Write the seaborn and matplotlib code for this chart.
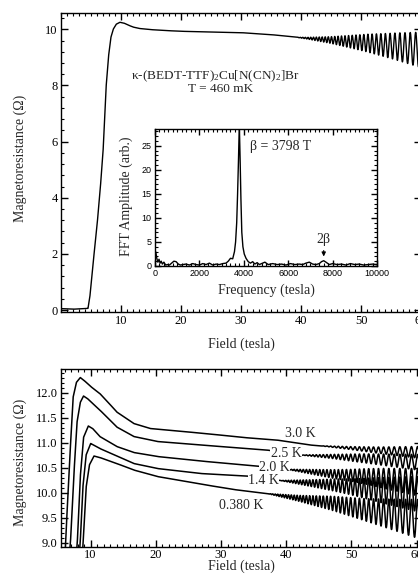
import numpy as np
import pandas as pd
import matplotlib
matplotlib.use('Agg')
import matplotlib.pyplot as plt
import seaborn as sns
from matplotlib.ticker import MultipleLocator, FormatStrFormatter

# ---- values ----
beta_freq = 3798  # T, quoted beta frequency

# top panel (T = 460 mK): background trace and oscillation envelope
top_field = [0, 2, 4, 4.5, 4.8, 5.2, 5.6, 6.0, 6.5, 7.0, 7.5, 7.9, 8.3, 8.7, 9.2, 9.8,
             10.5, 11.2, 12, 13, 14.8, 17, 19.8, 25, 30, 35, 40, 45.4, 51, 56.5, 60.5]
top_res = [0.05, 0.03, 0.05, 0.06, 0.45, 1.3, 2.2, 3.0, 4.2, 5.6, 7.9, 9.0, 9.7, 10.0, 10.18, 10.25,
           10.22, 10.15, 10.08, 10.03, 9.99, 9.96, 9.93, 9.90, 9.88, 9.81, 9.70, 9.61, 9.51, 9.37, 9.25]
top_amp_field = [0, 39, 41, 45, 50, 55, 60.5]
top_amp = [0, 0, 0.03, 0.12, 0.28, 0.45, 0.65]

# inset FFT spectrum
fft_freq = [0, 40, 80, 130, 180, 230, 280, 330, 400, 480, 560, 650, 750, 850, 950, 1050,
            1150, 1250, 1400, 1550, 1700, 1850, 2000, 2150, 2300, 2450, 2600, 2750, 2900,
            3050, 3200, 3300, 3400, 3500, 3580, 3630, 3680, 3720, 3760, 3798, 3835, 3870,
            3910, 3960, 4020, 4100, 4200, 4300, 4400, 4500, 4600, 4700,
            4800, 4950, 5100, 5300, 5500, 5700, 5900, 6100, 6300, 6500, 6650, 6800, 6950,
            7100, 7250, 7400, 7500, 7600, 7700, 7850, 8000, 8200, 8400, 8600, 8800, 9000,
            9200, 9400, 9600, 9800, 10000]
fft_amp = [3.3, 2.8, 1.6, 0.8, 1.4, 0.6, 1.0, 0.4, 0.8, 0.2, 0.3, 0.2, 0.6, 1.0, 0.9, 0.4,
           0.2, 0.3, 0.4, 0.2, 0.5, 0.3, 0.2, 0.5, 0.3, 0.6, 0.2, 0.4, 0.3,
           0.5, 0.6, 1.0, 1.6, 1.5, 3.0, 5.0, 9.0, 15.0, 22.0, 29.5, 22.0, 14.0,
           7.0, 4.0, 2.5, 1.6, 0.9, 0.6, 0.9, 0.4, 0.7, 0.3,
           0.5, 0.8, 0.3, 0.5, 0.3, 0.4, 0.2, 0.5, 0.3, 0.4, 0.3, 0.6, 0.8,
           0.4, 0.3, 0.5, 0.9, 1.1, 0.8, 0.3, 0.5, 0.3, 0.4, 0.2, 0.5, 0.3,
           0.4, 0.2, 0.3, 0.4, 0.3]

# bottom panel: five temperatures
temps = ['3.0 K', '2.5 K', '2.0 K', '1.4 K', '0.380 K']
bg_field = {
    '3.0 K': [5.4, 5.8, 6.15, 6.7, 7.3, 7.8, 8.4, 9.0, 10.0, 11.4, 12.7, 14.0, 16.6, 19.1,
              21.7, 28.3, 33.4, 38.5, 43.6, 48.7, 53.8, 60.7],
    '2.5 K': [5.4, 6.3, 6.9, 7.4, 7.9, 8.4, 8.9, 9.5, 10.3, 11.4, 14.0, 16.6, 20.2, 26.8,
              31.9, 37.0, 42.1, 47.2, 52.3, 60.7],
    '2.0 K': [5.4, 7.4, 7.95, 8.4, 8.9, 9.64, 10.3, 11.4, 14.0, 16.6, 20.2, 26.8, 35.5,
              41.1, 47.2, 52.3, 60.7],
    '1.4 K': [5.4, 7.9, 8.4, 8.8, 9.3, 10.0, 11.4, 14.0, 16.6, 20.2, 26.8, 34.0, 39.0,
              47.2, 52.3, 60.7],
    '0.380 K': [5.4, 8.4, 8.85, 9.3, 9.8, 10.5, 11.4, 14.0, 16.6, 20.2, 26.8, 31.9, 37.0,
                42.1, 47.2, 52.3, 60.7],
}
bg_res = {
    '3.0 K': [6.5, 8.0, 9.0, 10.45, 11.9, 12.2, 12.30, 12.24, 12.12, 11.98, 11.8, 11.61,
              11.38, 11.28, 11.25, 11.17, 11.10, 11.05, 10.95, 10.90, 10.85, 10.80],
    '2.5 K': [6.0, 8.0, 9.0, 10.3, 11.4, 11.8, 11.93, 11.88, 11.78, 11.65, 11.31, 11.12,
              11.02, 10.95, 10.90, 10.85, 10.75, 10.72, 10.68, 10.60],
    '2.0 K': [6.0, 8.0, 9.0, 10.3, 11.1, 11.33, 11.28, 11.12, 10.92, 10.80, 10.72, 10.63,
              10.53, 10.45, 10.37, 10.32, 10.20],
    '1.4 K': [6.0, 8.0, 9.0, 10.1, 10.75, 10.98, 10.88, 10.73, 10.58, 10.48, 10.38, 10.33,
              10.24, 10.15, 10.08, 9.96],
    '0.380 K': [6.0, 8.0, 9.0, 10.1, 10.55, 10.73, 10.70, 10.58, 10.45, 10.32, 10.17, 10.06,
                9.98, 9.88, 9.78, 9.65, 9.46],
}
amp_field = {
    '3.0 K': [0, 45, 50, 55, 60.7],
    '2.5 K': [0, 42, 47, 52, 60.7],
    '2.0 K': [0, 40, 45, 50, 55, 60.7],
    '1.4 K': [0, 39, 44, 50, 55, 60.7],
    '0.380 K': [0, 37, 42, 47, 52, 56, 60.7],
}
amp_val = {
    '3.0 K': [0, 0, 0.03, 0.07, 0.12],
    '2.5 K': [0, 0, 0.04, 0.09, 0.16],
    '2.0 K': [0, 0, 0.06, 0.12, 0.2, 0.28],
    '1.4 K': [0, 0, 0.07, 0.16, 0.26, 0.36],
    '0.380 K': [0, 0, 0.06, 0.14, 0.22, 0.3, 0.4],
}
label_pos = {'3.0 K': (42.2, 11.19), '2.5 K': (40.0, 10.79), '2.0 K': (38.2, 10.50),
             '1.4 K': (36.5, 10.24), '0.380 K': (33.1, 9.74)}

# ---- build traces ----
B = np.linspace(0.05, 60.7, 8000)
top = pd.DataFrame({'field': B})
top['R'] = np.interp(B, top_field, top_res) + \
    np.interp(B, top_amp_field, top_amp) * np.sin(2 * np.pi * beta_freq / B)

frames = []
for t in temps:
    r = np.interp(B, bg_field[t], bg_res[t]) + \
        np.interp(B, amp_field[t], amp_val[t]) * np.sin(2 * np.pi * beta_freq / B + 0.6)
    frames.append(pd.DataFrame({'field': B, 'R': r, 'T': t}))
bottom = pd.concat(frames)
bottom = bottom[bottom['field'] > 5.3]

fft = pd.DataFrame({'freq': fft_freq, 'amp': fft_amp})

# ---- style ----
sns.set_style('ticks')
plt.rcParams['font.family'] = ['Liberation Serif', 'DejaVu Serif']
plt.rcParams['mathtext.fontset'] = 'custom'
plt.rcParams['mathtext.rm'] = 'Liberation Serif'
plt.rcParams['mathtext.it'] = 'Liberation Serif:italic'
plt.rcParams['axes.linewidth'] = 1.0
plt.rcParams['axes.edgecolor'] = 'black'
for a in ('xtick', 'ytick'):
    plt.rcParams[a + '.direction'] = 'in'
    plt.rcParams[a + '.color'] = 'black'
    plt.rcParams[a + '.major.size'] = 5
    plt.rcParams[a + '.minor.size'] = 2.5
    plt.rcParams[a + '.major.width'] = 1.0
    plt.rcParams[a + '.minor.width'] = 0.8
    plt.rcParams[a + '.minor.visible'] = True
plt.rcParams['xtick.top'] = True
plt.rcParams['ytick.right'] = True
plt.rcParams['xtick.major.pad'] = 2.5
plt.rcParams['ytick.major.pad'] = 2.5

W, H = 418, 578
fig = plt.figure(figsize=(W / 100, H / 100), dpi=100)


def px_axes(l, t, r, b):
    return fig.add_axes([l / W, 1 - b / H, (r - l) / W, (b - t) / H])


def ticks(ax, size=9):
    ax.tick_params(which='both', direction='in', top=True, right=True,
                   bottom=True, left=True, labelsize=size)


# top panel
ax1 = px_axes(61, 13, 421, 312)
sns.lineplot(data=top, x='field', y='R', ax=ax1, color='k', lw=1.0, estimator=None, sort=False)
ax1.set_xlim(0, 60)
ax1.set_ylim(-0.07, 10.58)
ax1.set_xticks([10, 20, 30, 40, 50, 60])
ax1.set_yticks([0, 2, 4, 6, 8, 10])
ax1.xaxis.set_minor_locator(MultipleLocator(1))
ax1.yaxis.set_minor_locator(MultipleLocator(0.4))
ticks(ax1)
ax1.set_xlabel('Field (tesla)', fontsize=10)
ax1.set_ylabel('Magnetoresistance (Ω)', fontsize=10)
ax1.xaxis.set_label_coords(0.5, -0.087)
ax1.yaxis.set_label_coords(-0.094, 0.514)
ax1.text(25.8, 8.32, 'κ-(BEDT-TTF)$_2$Cu[N(CN)$_2$]Br', ha='center', va='center', fontsize=9.5)
ax1.text(26.6, 7.86, 'T = 460 mK', ha='center', va='center', fontsize=9.5)

# inset
axi = px_axes(155, 129, 377, 266)
sns.lineplot(data=fft, x='freq', y='amp', ax=axi, color='k', lw=1.0, estimator=None, sort=False)
axi.set_xlim(0, 10000)
axi.set_ylim(0, 28.5)
axi.set_xticks([0, 2000, 4000, 6000, 8000, 10000])
axi.set_yticks([0, 5, 10, 15, 20, 25])
axi.xaxis.set_minor_locator(MultipleLocator(200))
axi.yaxis.set_minor_locator(MultipleLocator(1))
ticks(axi, size=6.5)
axi.tick_params(which='major', length=4)
axi.tick_params(which='minor', length=2)
for lab in axi.get_xticklabels() + axi.get_yticklabels():
    lab.set_family(['Liberation Sans', 'DejaVu Sans'])
axi.set_xlabel('Frequency (tesla)', fontsize=10)
axi.set_ylabel('FFT Amplitude (arb.)', fontsize=10)
axi.xaxis.set_label_coords(0.5, -0.125)
axi.yaxis.set_label_coords(-0.099, 0.512)
axi.text(5676, 24.8, 'β = 3798 T', ha='center', va='center', fontsize=10)
axi.text(7570, 5.5, '2β', ha='center', va='center', fontsize=10)
axi.annotate('', xy=(7600, 1.4), xytext=(7600, 3.8),
             arrowprops=dict(arrowstyle='-|>', color='k', lw=0.8, mutation_scale=6))

# bottom panel
ax2 = px_axes(61, 369, 421, 547)
sns.lineplot(data=bottom, x='field', y='R', units='T', ax=ax2, color='k', lw=1.1,
             estimator=None, sort=False, legend=False)
ax2.set_xlim(5.45, 60.66)
ax2.set_ylim(8.91, 12.47)
ax2.set_xticks([10, 20, 30, 40, 50, 60])
ax2.set_yticks([9.0, 9.5, 10.0, 10.5, 11.0, 11.5, 12.0])
ax2.yaxis.set_major_formatter(FormatStrFormatter('%.1f'))
ax2.xaxis.set_minor_locator(MultipleLocator(1))
ax2.yaxis.set_minor_locator(MultipleLocator(0.1))
ticks(ax2)
ax2.tick_params(axis='x', pad=1.5)
ax2.set_xlabel('Field (tesla)', fontsize=10)
ax2.set_ylabel('Magnetoresistance (Ω)', fontsize=10)
ax2.xaxis.set_label_coords(0.5, -0.072)
ax2.yaxis.set_label_coords(-0.094, 0.475)
for t in temps:
    x, y = label_pos[t]
    ax2.text(x, y, t, ha='center', va='center', fontsize=10,
             bbox=dict(facecolor='white', edgecolor='none', pad=0.3))

fig.savefig('out.png', dpi=100)
